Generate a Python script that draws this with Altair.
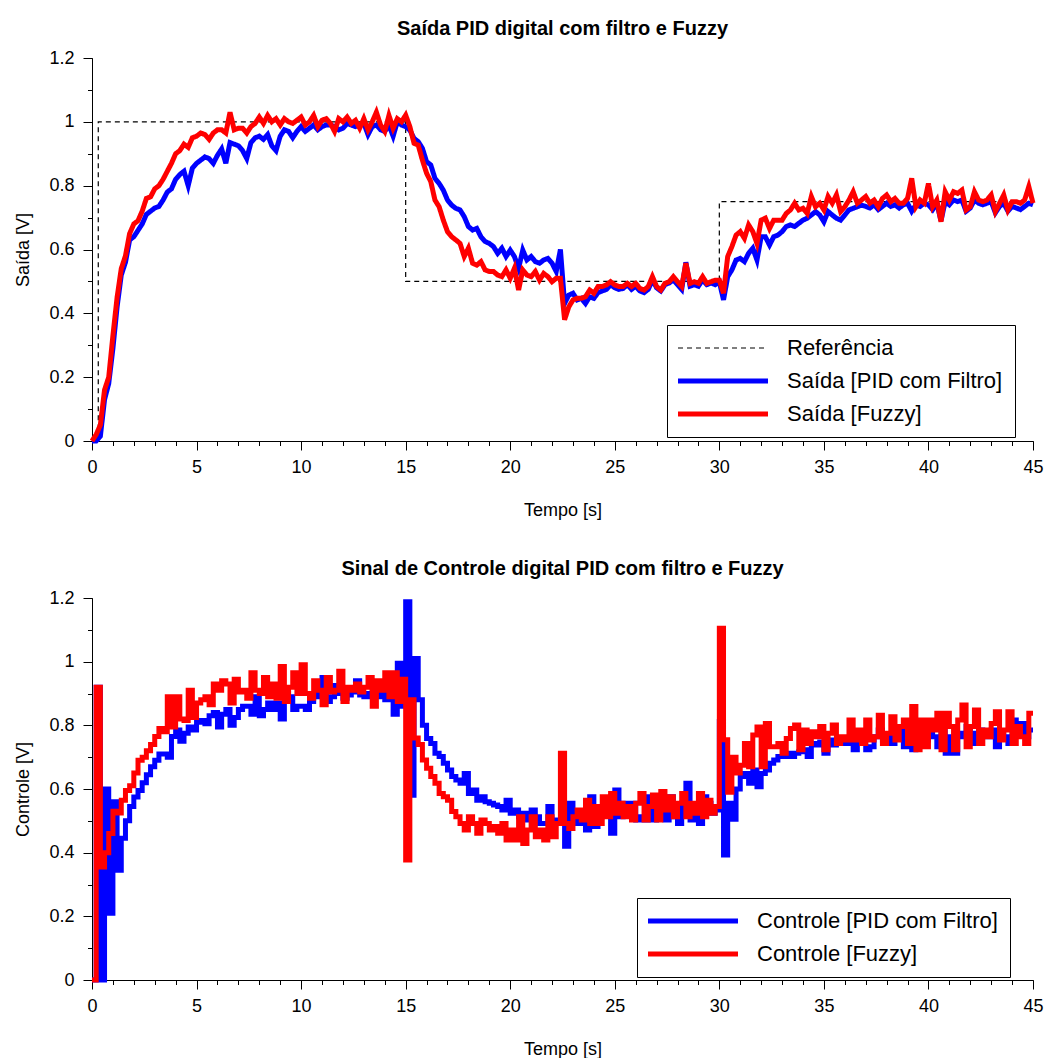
import altair as alt
import pandas as pd

FONT = "Liberation Sans"

# ---------------- data ----------------
N = 226  # samples 0 .. 45 s, every 0.2 s
time_s = [round(i * 0.2, 1) for i in range(N)]

ref_t = [0, 0.3, 0.3, 15, 15, 30, 30, 45]
ref_v = [0, 0, 1, 1, 0.5, 0.5, 0.75, 0.75]

pid_out = [
    0, 0.0, 0.015, 0.13, 0.18, 0.29, 0.42, 0.52, 0.56, 0.63,
    0.64, 0.66, 0.68, 0.71, 0.72, 0.73, 0.735, 0.755, 0.78, 0.79,
    0.82, 0.835, 0.845, 0.80, 0.855, 0.87, 0.88, 0.89, 0.885, 0.87,
    0.895, 0.915, 0.87, 0.935, 0.93, 0.925, 0.91, 0.885, 0.935, 0.95,
    0.955, 0.945, 0.96, 0.925, 0.91, 0.955, 0.975, 0.97, 0.95, 0.97,
    0.985, 0.97, 0.98, 0.99, 0.975, 0.985, 0.99, 0.99, 0.985, 0.975,
    0.98, 0.995, 0.99, 0.985, 0.99, 0.995, 0.96, 0.985, 0.99, 0.975,
    0.97, 0.99, 0.955, 1.0, 0.99, 0.985, 0.974, 0.948, 0.938, 0.917,
    0.875, 0.865, 0.823, 0.807, 0.786, 0.755, 0.739, 0.729, 0.724, 0.703,
    0.672, 0.661, 0.666, 0.640, 0.625, 0.619, 0.609, 0.588, 0.604, 0.578,
    0.598, 0.578, 0.541, 0.598, 0.567, 0.578, 0.562, 0.557, 0.567, 0.572,
    0.557, 0.531, 0.60, 0.431, 0.457, 0.463, 0.442, 0.447, 0.431, 0.452,
    0.447, 0.465, 0.47, 0.475, 0.49, 0.48, 0.475, 0.478, 0.49, 0.475,
    0.485, 0.47, 0.465, 0.475, 0.505, 0.48, 0.47, 0.49, 0.495, 0.505,
    0.49, 0.475, 0.56, 0.485, 0.49, 0.485, 0.505, 0.49, 0.495, 0.49,
    0.499, 0.442, 0.515, 0.536, 0.567, 0.572, 0.562, 0.588, 0.604, 0.567,
    0.640, 0.640, 0.614, 0.640, 0.645, 0.656, 0.672, 0.677, 0.672, 0.682,
    0.692, 0.698, 0.708, 0.719, 0.708, 0.687, 0.719, 0.708, 0.698, 0.692,
    0.708, 0.724, 0.729, 0.734, 0.739, 0.735, 0.73, 0.74, 0.725, 0.735,
    0.745, 0.735, 0.74, 0.73, 0.74, 0.745, 0.72, 0.74, 0.735, 0.745,
    0.74, 0.725, 0.745, 0.69, 0.75, 0.74, 0.755, 0.75, 0.755, 0.72,
    0.73, 0.755, 0.745, 0.74, 0.745, 0.75, 0.715, 0.735, 0.745, 0.72,
    0.735, 0.73, 0.725, 0.735, 0.745, 0.74,
]

fuzzy_out = [
    0, 0.02, 0.05, 0.16, 0.2, 0.33, 0.45, 0.54, 0.58, 0.65,
    0.68, 0.69, 0.72, 0.76, 0.765, 0.79, 0.80, 0.82, 0.845, 0.87,
    0.90, 0.91, 0.93, 0.92, 0.95, 0.955, 0.965, 0.96, 0.945, 0.965,
    0.975, 0.975, 0.965, 1.03, 0.975, 0.98, 0.98, 0.965, 0.985, 0.995,
    1.015, 0.995, 1.02, 1.0, 1.01, 0.99, 1.01, 1.0, 0.995, 1.005,
    1.015, 0.99, 1.0, 1.02, 0.985, 1.005, 1.01, 0.995, 0.97, 1.01,
    1.0, 1.015, 0.995, 1.005, 0.98, 1.01, 0.975, 1.0, 1.03, 0.99,
    0.97, 1.02, 0.98, 1.01, 1.0, 1.021, 0.985, 0.933, 0.927, 0.880,
    0.839, 0.813, 0.755, 0.734, 0.692, 0.656, 0.640, 0.630, 0.619, 0.578,
    0.604, 0.557, 0.551, 0.562, 0.536, 0.531, 0.531, 0.520, 0.515, 0.536,
    0.510, 0.541, 0.473, 0.536, 0.520, 0.515, 0.531, 0.504, 0.525, 0.515,
    0.499, 0.510, 0.51, 0.38, 0.42, 0.442, 0.447, 0.447, 0.452, 0.473,
    0.463, 0.484, 0.484, 0.489, 0.499, 0.489, 0.484, 0.484, 0.494, 0.484,
    0.494, 0.478, 0.473, 0.484, 0.515, 0.484, 0.473, 0.494, 0.499, 0.515,
    0.499, 0.484, 0.557, 0.494, 0.499, 0.494, 0.515, 0.494, 0.499, 0.504,
    0.504, 0.463, 0.578, 0.609, 0.645, 0.656, 0.635, 0.677, 0.656, 0.619,
    0.692, 0.698, 0.666, 0.692, 0.692, 0.692, 0.713, 0.724, 0.745, 0.724,
    0.729, 0.713, 0.766, 0.734, 0.745, 0.724, 0.766, 0.745, 0.771, 0.719,
    0.734, 0.755, 0.781, 0.745, 0.755, 0.766, 0.745, 0.755, 0.734, 0.760,
    0.771, 0.750, 0.760, 0.745, 0.745, 0.760, 0.823, 0.734, 0.755, 0.745,
    0.807, 0.734, 0.755, 0.687, 0.781, 0.755, 0.781, 0.776, 0.786, 0.724,
    0.734, 0.781, 0.755, 0.750, 0.755, 0.771, 0.719, 0.745, 0.771, 0.724,
    0.750, 0.750, 0.745, 0.755, 0.797, 0.745,
]

pid_ctrl = [
    0, 0.92, 0.0, 0.6, 0.21, 0.56, 0.345, 0.445, 0.50, 0.545,
    0.575, 0.595, 0.62, 0.645, 0.67, 0.69, 0.71, 0.71, 0.70, 0.765,
    0.785, 0.75, 0.775, 0.795, 0.785, 0.81, 0.815, 0.805, 0.83, 0.84,
    0.795, 0.835, 0.85, 0.80, 0.825, 0.85, 0.86, 0.86, 0.835, 0.89,
    0.83, 0.85, 0.87, 0.85, 0.87, 0.82, 0.90, 0.89, 0.85, 0.86,
    0.86, 0.85, 0.875, 0.89, 0.90, 0.95, 0.875, 0.89, 0.925, 0.90,
    0.885, 0.895, 0.905, 0.94, 0.895, 0.89, 0.90, 0.91, 0.89, 0.90,
    0.88, 0.91, 0.835, 0.995, 0.86, 1.188, 0.58, 1.01, 0.88, 0.80,
    0.759, 0.743, 0.712, 0.702, 0.681, 0.66, 0.639, 0.628, 0.618, 0.649,
    0.586, 0.597, 0.565, 0.576, 0.56, 0.555, 0.55, 0.545, 0.534, 0.565,
    0.524, 0.534, 0.513, 0.524, 0.503, 0.534, 0.513, 0.492, 0.492, 0.545,
    0.503, 0.492, 0.50, 0.42, 0.555, 0.513, 0.492, 0.503, 0.471, 0.576,
    0.482, 0.513, 0.524, 0.545, 0.461, 0.597, 0.513, 0.555, 0.534, 0.555,
    0.503, 0.513, 0.503, 0.576, 0.503, 0.555, 0.545, 0.503, 0.576, 0.513,
    0.492, 0.555, 0.618, 0.503, 0.545, 0.492, 0.576, 0.555, 0.524, 0.534,
    0.812, 0.393, 0.555, 0.505, 0.60, 0.639, 0.649, 0.618, 0.66, 0.607,
    0.649, 0.66, 0.681, 0.691, 0.702, 0.702, 0.712, 0.702, 0.712, 0.717,
    0.723, 0.702, 0.743, 0.738, 0.748, 0.712, 0.754, 0.738, 0.748, 0.759,
    0.743, 0.754, 0.723, 0.754, 0.764, 0.723, 0.733, 0.764, 0.785, 0.754,
    0.764, 0.743, 0.775, 0.785, 0.733, 0.764, 0.723, 0.754, 0.785, 0.754,
    0.775, 0.764, 0.733, 0.827, 0.712, 0.764, 0.712, 0.775, 0.764, 0.796,
    0.775, 0.743, 0.785, 0.775, 0.764, 0.785, 0.733, 0.775, 0.764, 0.743,
    0.817, 0.775, 0.806, 0.764, 0.785, 0.785,
]

fuzzy_ctrl = [
    0, 0.92, 0.355, 0.40, 0.46, 0.53, 0.525, 0.565, 0.595, 0.61,
    0.65, 0.69, 0.70, 0.72, 0.74, 0.765, 0.79, 0.78, 0.89, 0.795,
    0.89, 0.82, 0.815, 0.91, 0.825, 0.87, 0.88, 0.89, 0.865, 0.93,
    0.91, 0.94, 0.93, 0.87, 0.945, 0.905, 0.91, 0.885, 0.965, 0.91,
    0.90, 0.95, 0.89, 0.93, 0.885, 0.985, 0.875, 0.92, 0.965, 0.90,
    0.99, 0.90, 0.885, 0.94, 0.91, 0.865, 0.95, 0.905, 0.91, 0.97,
    0.875, 0.92, 0.91, 0.93, 0.905, 0.92, 0.95, 0.86, 0.94, 0.91,
    0.965, 0.89, 0.965, 0.875, 0.945, 0.377, 0.88, 0.76, 0.74, 0.691,
    0.665, 0.639, 0.618, 0.586, 0.576, 0.565, 0.529, 0.513, 0.492, 0.471,
    0.513, 0.492, 0.461, 0.503, 0.492, 0.471, 0.482, 0.461, 0.492, 0.44,
    0.471, 0.44, 0.513, 0.429, 0.471, 0.513, 0.45, 0.471, 0.44, 0.513,
    0.45, 0.492, 0.712, 0.492, 0.476, 0.513, 0.534, 0.503, 0.565, 0.492,
    0.545, 0.492, 0.576, 0.513, 0.586, 0.524, 0.555, 0.513, 0.545, 0.503,
    0.555, 0.586, 0.503, 0.545, 0.581, 0.503, 0.592, 0.534, 0.576, 0.513,
    0.555, 0.586, 0.513, 0.555, 0.524, 0.586, 0.513, 0.565, 0.524, 0.545,
    1.105, 0.755, 0.59, 0.70, 0.65, 0.675, 0.743, 0.67, 0.77, 0.795,
    0.67, 0.806, 0.733, 0.733, 0.743, 0.712, 0.759, 0.79, 0.801, 0.723,
    0.785, 0.743, 0.78, 0.764, 0.796, 0.723, 0.775, 0.801, 0.743, 0.764,
    0.754, 0.817, 0.754, 0.785, 0.743, 0.817, 0.754, 0.764, 0.832, 0.743,
    0.775, 0.827, 0.754, 0.796, 0.817, 0.743, 0.859, 0.723, 0.817, 0.733,
    0.817, 0.785, 0.838, 0.723, 0.838, 0.796, 0.723, 0.817, 0.864, 0.733,
    0.796, 0.848, 0.743, 0.785, 0.764, 0.806, 0.843, 0.754, 0.785, 0.843,
    0.743, 0.796, 0.764, 0.743, 0.838, 0.838,
]

for arr in (pid_out, fuzzy_out, pid_ctrl, fuzzy_ctrl):
    assert len(arr) == N, len(arr)

top_names = ["Referência", "Saída [PID com Filtro]", "Saída [Fuzzy]"]
bot_names = ["Controle [PID com Filtro]", "Controle [Fuzzy]"]

x_major_ticks = [0, 5, 10, 15, 20, 25, 30, 35, 40, 45]
x_minor_ticks = list(range(0, 46))
y_major_ticks = [0, 0.2, 0.4, 0.6, 0.8, 1.0, 1.2]
y_minor_ticks = [0, 0.1, 0.2, 0.3, 0.4, 0.5, 0.6, 0.7, 0.8, 0.9, 1.0, 1.1, 1.2]


def make_df(names, ts, vals):
    rows = []
    k = 0
    for name, tt, vv in zip(names, ts, vals):
        for a, b in zip(tt, vv):
            rows.append({"t": a, "v": b, "serie": name, "k": k})
            k += 1
    return pd.DataFrame(rows)


top_df = make_df(top_names, [ref_t, time_s, time_s], [ref_v, pid_out, fuzzy_out])
bot_df = make_df(bot_names, [time_s, time_s], [pid_ctrl, fuzzy_ctrl])

W = 941
LW = 5

xscale = alt.Scale(domain=[0, 45], nice=False, zero=False)
yscale = alt.Scale(domain=[0, 1.2], nice=False, zero=False)


def x_major():
    return alt.Axis(values=x_major_ticks, title="Tempo [s]", orient="bottom",
                    tickSize=9, labelPadding=8, titlePadding=25, format="d",
                    labelFlush=False, grid=False)


def x_minor():
    return alt.Axis(values=x_minor_ticks, title=None, orient="bottom", labels=False,
                    tickSize=4.5, domain=False, grid=False)


def y_major(title):
    return alt.Axis(values=y_major_ticks, title=title, orient="left", tickSize=9,
                    labelPadding=9, titlePadding=16, format=".1~f", grid=False,
                    labelFlush=False)


def y_minor():
    return alt.Axis(values=y_minor_ticks, title=None, orient="left", labels=False,
                    tickSize=4.5, domain=False, grid=False)


LINE_SYMBOL = "M-9,0H9"  # long horizontal stroke (scaled by the symbol size)


def legend(x, y, **kw):
    return alt.Legend(title=None, orient="none", legendX=x, legendY=y,
                      symbolType=LINE_SYMBOL, symbolSize=100, symbolOffset=33,
                      labelFont=FONT, labelFontSize=22, labelColor="black",
                      strokeColor="black", fillColor="white", padding=12,
                      rowPadding=11, labelOffset=53, labelLimit=500, **kw)


def title(text):
    return alt.TitleParams(text=text, font=FONT, fontSize=20, fontWeight="bold",
                           color="black", anchor="middle", frame="group", offset=10)


# ---------------- top panel ----------------
top_lines = alt.Chart(top_df).mark_line(interpolate="linear").encode(
    x=alt.X("t:Q", scale=xscale, axis=x_major()),
    y=alt.Y("v:Q", scale=yscale, axis=y_major("Saída [V]")),
    color=alt.Color("serie:N", sort=top_names,
                    scale=alt.Scale(domain=top_names, range=["black", "#0000ff", "#ff0000"]),
                    legend=legend(575, 267)),
    strokeDash=alt.StrokeDash("serie:N", sort=top_names,
                              scale=alt.Scale(domain=top_names, range=[[5, 4], [1, 0], [1, 0]]),
                              legend=legend(575, 267)),
    strokeWidth=alt.StrokeWidth("serie:N", sort=top_names,
                                scale=alt.Scale(type="ordinal", domain=top_names,
                                                range=[1.2, LW, LW]),
                                legend=legend(575, 267)),
    order=alt.Order("k:Q"),
)
top_minor = alt.Chart(top_df.head(2)).mark_point(opacity=0).encode(
    x=alt.X("t:Q", scale=xscale, axis=x_minor()),
    y=alt.Y("v:Q", scale=yscale, axis=y_minor()),
)
top = alt.layer(top_lines, top_minor).resolve_axis(x="independent", y="independent").properties(
    width=W, height=383, title=title("Saída PID digital com filtro e Fuzzy"))

# ---------------- bottom panel ----------------
bot_lines = alt.Chart(bot_df).mark_line(interpolate="step-after", strokeWidth=LW).encode(
    x=alt.X("t:Q", scale=xscale, axis=x_major()),
    y=alt.Y("v:Q", scale=yscale, axis=y_major("Controle [V]")),
    color=alt.Color("serie:N", sort=bot_names,
                    scale=alt.Scale(domain=bot_names, range=["#0000ff", "#ff0000"]),
                    legend=legend(545, 300, symbolStrokeWidth=LW)),
    order=alt.Order("k:Q"),
)
bot_minor = alt.Chart(bot_df.head(2)).mark_point(opacity=0).encode(
    x=alt.X("t:Q", scale=xscale, axis=x_minor()),
    y=alt.Y("v:Q", scale=yscale, axis=y_minor()),
)
bottom = alt.layer(bot_lines, bot_minor).resolve_axis(x="independent", y="independent").properties(
    width=W, height=382, title=title("Sinal de Controle digital PID com filtro e Fuzzy"))

chart = alt.vconcat(top, bottom, spacing=40).resolve_scale(
    color="independent", strokeDash="independent", strokeWidth="independent"
).resolve_legend(
    color="independent", strokeDash="independent", strokeWidth="independent"
).properties(
    padding={"left": 14, "top": 19, "right": 0, "bottom": 0}, background="white"
).configure_view(stroke=None).configure_axis(
    labelFont=FONT, titleFont=FONT, labelFontSize=18, titleFontSize=18,
    labelColor="black", titleColor="black", domainColor="black", tickColor="black",
    titleFontWeight="normal", domainWidth=1, tickWidth=1,
)

chart.save("out.html", embed_options={"renderer": "svg", "actions": False})
